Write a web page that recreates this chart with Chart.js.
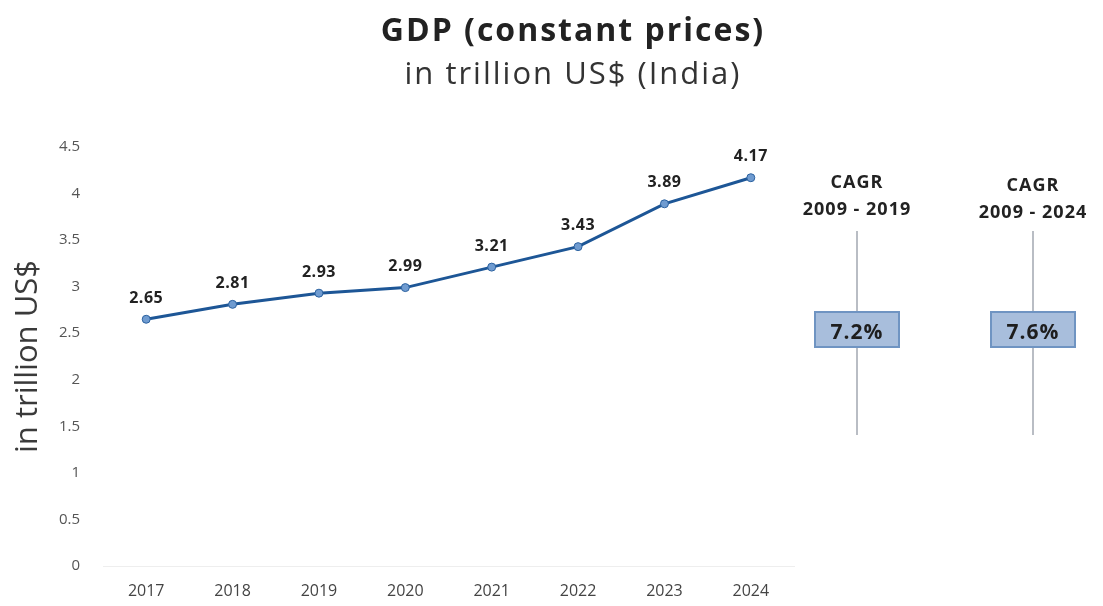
<!DOCTYPE html>
<html>
<head>
<meta charset="utf-8">
<script src="https://cdn.jsdelivr.net/npm/chart.js@4"></script>
<style>
  html, body { margin: 0; padding: 0; background: #fff; }
  #wrap { width: 1103px; height: 606px; }
</style>
</head>
<body>
<div id="wrap"><canvas id="gdpChart" width="1103" height="606"></canvas></div>
<script>
// values
const years = ['2017', '2018', '2019', '2020', '2021', '2022', '2023', '2024'];
const gdp = [2.65, 2.81, 2.93, 2.99, 3.21, 3.43, 3.89, 4.17];
const yTicks = [0, 0.5, 1, 1.5, 2, 2.5, 3, 3.5, 4, 4.5];
const titleText = 'GDP (constant prices)';
const subtitleText = 'in trillion US$ (India)';
const cagrPeriods = ['2009 - 2019', '2009 - 2024'];
const cagrValues = ['7.2%', '7.6%'];

const FONT = '"Open Sans", Lato, sans-serif';

// title block, centred over the whole picture (not just the plot)
const titleBlock = {
  id: 'titleBlock',
  afterDraw(chart) {
    const ctx = chart.ctx;
    ctx.save();
    ctx.textAlign = 'center';
    ctx.textBaseline = 'middle';
    ctx.fillStyle = '#222';
    ctx.font = 'bold 32px ' + FONT;
    ctx.letterSpacing = '2px';
    ctx.fillText(titleText, 573, 32);
    ctx.fillStyle = '#333';
    ctx.font = '31px ' + FONT;
    ctx.letterSpacing = '2px';
    ctx.fillText(subtitleText, 573, 75);
    ctx.restore();
  }
};

// numbers above each point
const pointLabels = {
  id: 'pointLabels',
  afterDatasetsDraw(chart) {
    const ctx = chart.ctx;
    const meta = chart.getDatasetMeta(0);
    ctx.save();
    ctx.font = 'bold 16px ' + FONT;
    ctx.letterSpacing = '0.5px';
    ctx.fillStyle = '#222';
    ctx.textAlign = 'center';
    ctx.textBaseline = 'middle';
    meta.data.forEach((pt, i) => {
      ctx.fillText(gdp[i].toFixed(2), pt.x, pt.y - 21);
    });
    ctx.restore();
  }
};

// the two CAGR panels on the right
const cagrPanels = {
  id: 'cagrPanels',
  afterDraw(chart) {
    const ctx = chart.ctx;
    const right = chart.chartArea.right;
    const centers = [right + 63, right + 239];
    ctx.save();
    centers.forEach((cx, i) => {
      ctx.fillStyle = '#222';
      ctx.textAlign = 'center';
      ctx.textBaseline = 'middle';
      ctx.font = 'bold 18px ' + FONT;
      ctx.letterSpacing = '1px';
      ctx.fillText('CAGR', cx, 183 + i * 3);
      ctx.fillText(cagrPeriods[i], cx, 210 + i * 3);
      // whisker
      ctx.strokeStyle = '#b9bdc4';
      ctx.lineWidth = 2;
      ctx.beginPath();
      ctx.moveTo(cx, 231);
      ctx.lineTo(cx, 435);
      ctx.stroke();
      // box
      ctx.fillStyle = '#a8bedc';
      ctx.strokeStyle = '#6f94c2';
      ctx.fillRect(cx - 42, 312, 84, 35);
      ctx.strokeRect(cx - 42, 312, 84, 35);
      ctx.fillStyle = '#1e1e1e';
      ctx.font = 'bold 21px ' + FONT;
      ctx.fillText(cagrValues[i], cx, 333);
    });
    ctx.restore();
  }
};

new Chart(document.getElementById('gdpChart'), {
  type: 'line',
  data: {
    labels: years,
    datasets: [{
      label: 'GDP',
      data: gdp,
      borderColor: '#1d5696',
      borderWidth: 3,
      pointRadius: 4,
      pointBackgroundColor: '#6f9bd0',
      pointBorderColor: '#2c62a0',
      pointBorderWidth: 1,
      tension: 0
    }]
  },
  options: {
    responsive: false,
    animation: false,
    layout: { padding: { top: 147, right: 309, bottom: 0, left: 0 } },
    plugins: {
      legend: { display: false },
      tooltip: { enabled: false }
    },
    scales: {
      x: {
        offset: true,
        afterFit(scale) { scale.height = 40; },
        grid: { display: false, drawTicks: false },
        border: { display: true, color: '#eeeeee', width: 1 },
        ticks: { color: '#444', font: { family: FONT, size: 16 }, padding: 16 }
      },
      y: {
        min: 0,
        max: 4.5,
        afterBuildTicks(scale) {
          scale.ticks = yTicks.map(v => ({ value: v }));
        },
        afterFit(scale) { scale.width = 103; },
        grid: { display: false, drawTicks: false },
        border: { display: false },
        ticks: {
          color: '#555',
          font: { family: FONT, size: 15 },
          padding: 23,
          callback: v => String(v)
        },
        title: {
          display: true,
          text: 'in trillion US$',
          color: '#3a3a3a',
          font: { family: FONT, size: 31, weight: '400' },
          padding: { top: 10, bottom: 0 }
        }
      }
    }
  },
  plugins: [titleBlock, pointLabels, cagrPanels]
});
</script>
</body>
</html>
